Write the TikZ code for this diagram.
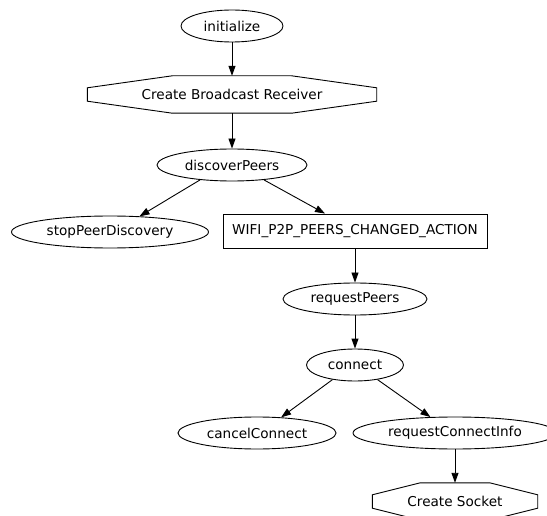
\documentclass[tikz,border=0pt]{standalone}
\usepackage{fontspec}
\setmainfont{DejaVu Sans}
\usetikzlibrary{shapes.geometric,arrows.meta,calc}
\tikzset{
  every node/.style={font=\fontsize{13.6}{16}\selectfont, text=black},
  ln/.style={draw=black, line width=0.9pt},
  ell/.style={ellipse, ln, inner sep=0pt, minimum height=32pt},
  boxnode/.style={rectangle, ln, inner sep=0pt, minimum height=34pt},
  octnode/.style={rectangle, draw=none, inner sep=0pt, minimum height=37pt},
  edge/.style={ln, -{Triangle[length=10pt,width=7pt]}}
}
\newcommand\myocta[2]{%
  \draw[ln] ($(#1.north west)+(0,12)$) -- ($(#1.north west)+(#2,0)$)
    -- ($(#1.north east)+(-#2,0)$) -- ($(#1.north east)+(0,12)$)
    -- ($(#1.south east)+(0,-12)$) -- ($(#1.south east)+(-#2,0)$)
    -- ($(#1.south west)+(#2,0)$) -- ($(#1.south west)+(0,-12)$) -- cycle;}
\begin{document}
\begin{tikzpicture}[x=1pt,y=-1pt]
\clip (0,0) rectangle (547,516);
\fill[white] (0,0) rectangle (547,516);

\node[ell, minimum width=102pt] (init) at (232,26) {initialize};
\node[octnode, minimum width=289pt] (cbr) at (232,94.5) {Create Broadcast Receiver};
\myocta{cbr}{85}
\node[ell, minimum width=150pt] (dp) at (232,165) {discoverPeers};
\node[ell, minimum width=197pt] (spd) at (110,232) {stopPeerDiscovery};
\node[boxnode, minimum width=264pt] (wifi) at (355,231) {WIFI\_P2P\_PEERS\_CHANGED\_ACTION};
\node[ell, minimum width=144pt] (rp) at (355,299) {requestPeers};
\node[ell, minimum width=97pt] (con) at (355,365) {connect};
\node[ell, minimum width=158pt] (cc) at (257,433) {cancelConnect};
\node[ell, minimum width=204pt] (rci) at (455,433) {requestConnectInfo};
\node[octnode, minimum width=165pt] (cs) at (455,501.5) {Create Socket};
\myocta{cs}{48}

\draw[edge] (init) -- (cbr);
\draw[edge] (cbr) -- (dp);
\draw[edge] (dp.205) -- (spd.28);
\draw[edge] (dp.-25) -- ($(wifi.north)+(-30,0)$);
\draw[edge] (wifi) -- (rp);
\draw[edge] (rp) -- (con);
\draw[edge] (con.213) -- (cc.33);
\draw[edge] (con.-33) -- (rci.147);
\draw[edge] (rci) -- (cs);
\end{tikzpicture}
\end{document}
